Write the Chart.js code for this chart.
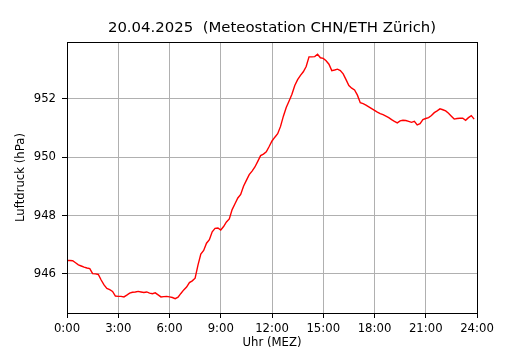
<!DOCTYPE html>
<html>
<head>
<meta charset="utf-8">
<script src="https://cdn.jsdelivr.net/npm/chart.js@4.4.1/dist/chart.umd.min.js"></script>
<style>
html,body{margin:0;padding:0;background:#fff;}
canvas{display:block;}
</style>
</head>
<body>
<canvas id="c" width="530" height="350"></canvas>
<script>
const titleText = "20.04.2025  (Meteostation CHN/ETH Zürich)";
const xLabel = "Uhr (MEZ)";
const yLabel = "Luftdruck (hPa)";
const xTicks = [0, 3, 6, 9, 12, 15, 18, 21, 24];
const yTicks = [946, 948, 950, 952];
const times = [
"0:00","0:10","0:20","0:30","0:40","0:50","1:00","1:10","1:20","1:30","1:40","1:50",
"2:00","2:10","2:20","2:30","2:40","2:50","3:00","3:10","3:20","3:30","3:40","3:50",
"4:00","4:10","4:20","4:30","4:40","4:50","5:00","5:10","5:20","5:30","5:40","5:50",
"6:00","6:10","6:20","6:30","6:40","6:50","7:00","7:10","7:20","7:30","7:40","7:50",
"8:00","8:10","8:20","8:30","8:40","8:50","9:00","9:10","9:20","9:30","9:40","9:50",
"10:00","10:10","10:20","10:30","10:40","10:50","11:00","11:10","11:20","11:30","11:40","11:50",
"12:00","12:10","12:20","12:30","12:40","12:50","13:00","13:10","13:20","13:30","13:40","13:50",
"14:00","14:10","14:20","14:30","14:40","14:50","15:00","15:10","15:20","15:30","15:40","15:50",
"16:00","16:10","16:20","16:30","16:40","16:50","17:00","17:10","17:20","17:30","17:40","17:50",
"18:00","18:10","18:20","18:30","18:40","18:50","19:00","19:10","19:20","19:30","19:40","19:50",
"20:00","20:10","20:20","20:30","20:40","20:50","21:00","21:10","21:20","21:30","21:40","21:50",
"22:00","22:10","22:20","22:30","22:40","22:50","23:00","23:10","23:20","23:30","23:40","23:50"
];
const pressure = [
946.46,946.46,946.45,946.38,946.31,946.27,946.23,946.20,946.18,946.01,946.00,945.98,
945.79,945.62,945.50,945.46,945.40,945.24,945.23,945.23,945.21,945.27,945.34,945.37,
945.38,945.40,945.38,945.36,945.38,945.34,945.32,945.35,945.28,945.21,945.22,945.23,
945.21,945.19,945.15,945.20,945.33,945.45,945.55,945.70,945.76,945.85,946.30,946.68,
946.80,947.05,947.17,947.44,947.56,947.57,947.50,947.62,947.78,947.88,948.20,948.40,
948.60,948.72,949.00,949.20,949.40,949.52,949.66,949.85,950.05,950.10,950.18,950.36,
950.55,950.68,950.80,951.05,951.40,951.70,951.92,952.15,952.45,952.65,952.80,952.92,
953.10,953.43,953.43,953.44,953.52,953.40,953.38,953.30,953.18,952.96,952.98,953.01,
952.96,952.85,952.65,952.45,952.36,952.30,952.12,951.86,951.83,951.78,951.72,951.66,
951.60,951.54,951.49,951.45,951.40,951.35,951.28,951.22,951.17,951.24,951.26,951.25,
951.22,951.19,951.22,951.10,951.14,951.28,951.32,951.35,951.42,951.52,951.58,951.65,
951.62,951.58,951.50,951.40,951.30,951.32,951.33,951.33,951.26,951.35,951.42,951.30
];
const xMin = 0, xMax = 24, yMin = 944.66, yMax = 953.94;

function toHours(s){ const p = s.split(':'); return Number(p[0]) + Number(p[1]) / 60; }

const FONT = 'DejaVu Sans';
const frameAndTitle = {
  id: 'frameAndTitle',
  afterDraw(chart){
    const a = chart.chartArea, ctx = chart.ctx;
    ctx.save();
    ctx.strokeStyle = '#000';
    ctx.lineWidth = 1;
    ctx.strokeRect(a.left + 0.5, a.top + 0.5, a.right - a.left, a.bottom - a.top);
    ctx.fillStyle = '#000';
    ctx.font = '14.9px "' + FONT + '"';
    ctx.textAlign = 'center';
    ctx.textBaseline = 'middle';
    ctx.fillText(titleText, (a.left + a.right) / 2, 28);
    ctx.restore();
  }
};

new Chart(document.getElementById('c'), {
  type: 'line',
  data: {
    datasets: [{
      data: times.map((t, i) => ({x: toHours(t), y: pressure[i]})),
      borderColor: '#ff0000',
      borderWidth: 1.4,
      pointRadius: 0,
      tension: 0,
      fill: false
    }]
  },
  options: {
    responsive: false,
    devicePixelRatio: 1,
    animation: false,
    layout: { padding: { left: 0, right: 53, top: 42, bottom: 0 } },
    plugins: {
      legend: { display: false },
      tooltip: { enabled: false },
      title: { display: false }
    },
    scales: {
      x: {
        type: 'linear',
        min: xMin, max: xMax,
        afterBuildTicks: s => { s.ticks = xTicks.map(v => ({value: v})); },
        afterFit: s => { s.height = 37; },
        ticks: {
          color: '#000',
          font: { family: FONT, size: 11.7 },
          padding: 4,
          maxRotation: 0,
          autoSkip: false,
          callback: v => v + ':00'
        },
        grid: { color: '#b0b0b0', lineWidth: 1, tickLength: 5, tickColor: '#000', tickWidth: 1 },
        border: { display: false },
        title: { display: true, text: xLabel, color: '#000', font: { family: FONT, size: 11.7, lineHeight: 1.2 }, padding: { top: 0, bottom: 0 } }
      },
      y: {
        type: 'linear',
        min: yMin, max: yMax,
        afterBuildTicks: s => { s.ticks = yTicks.map(v => ({value: v})); },
        afterFit: s => { s.width = 67; },
        ticks: {
          color: '#000',
          font: { family: FONT, size: 11.7 },
          padding: 6,
          callback: v => String(v)
        },
        grid: { color: '#b0b0b0', lineWidth: 1, tickLength: 5, tickColor: '#000', tickWidth: 1 },
        border: { display: false },
        title: { display: true, text: yLabel, color: '#000', font: { family: FONT, size: 11.7, lineHeight: 1.2 }, padding: { top: 14, bottom: 0 } }
      }
    }
  },
  plugins: [frameAndTitle]
});
</script>
</body>
</html>
